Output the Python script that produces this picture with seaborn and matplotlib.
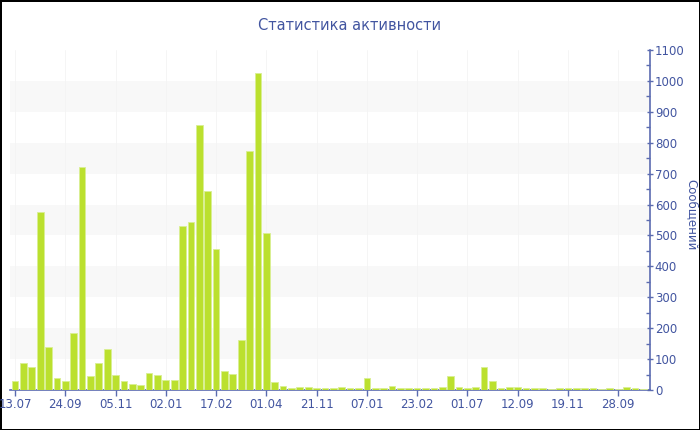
import matplotlib
matplotlib.use("Agg")
import matplotlib.pyplot as plt
import seaborn as sns
import numpy as np
import pandas as pd

# ---- data ----
tick_labels = ["13.07", "24.09", "05.11", "02.01", "17.02", "01.04", "21.11",
               "07.01", "23.02", "01.07", "12.09", "19.11", "28.09"]
messages = [30, 87, 73, 575, 138, 39, 28, 183, 720, 44,
            87, 134, 49, 29, 18, 15, 54, 47, 32, 31,
            530, 543, 858, 644, 455, 61, 51, 161, 773, 1025,
            509, 25, 13, 8, 9, 10, 6, 6, 6, 10,
            5, 7, 38, 6, 6, 12, 6, 6, 6, 6,
            6, 10, 45, 9, 5, 10, 74, 29, 6, 9,
            10, 6, 7, 7, 4, 5, 5, 5, 5, 5,
            4, 6, 4, 9, 5, 4]
title = "Статистика активности"
ylabel = "Сообщений"

text_color = "#4255a0"
axis_color = "#5b6bb0"
bar_color = "#bbe02e"

sns.set_theme(style="white")
plt.rcParams['font.family'] = ['DejaVu Sans']

fig = plt.figure(figsize=(7, 4.3), dpi=100, edgecolor="black", linewidth=2)
ax = fig.add_axes([10/700, 40/430, 640/700, 340/430])

df = pd.DataFrame({"idx": np.arange(len(messages)), "val": messages})
sns.barplot(data=df, x="idx", y="val", color=bar_color, saturation=1,
            width=0.8, edgecolor="#d9ef93", linewidth=0.6, ax=ax, zorder=3)

ax.set_xlim(-0.6, len(messages) - 1 + 0.8)
ax.set_ylim(0, 1100)

# alternating bands
for lo in range(100, 1100, 200):
    ax.axhspan(lo, lo + 100, color="#f8f8f8", zorder=0, lw=0)

tick_pos = list(range(0, len(messages), 6))[:len(tick_labels)]
for p in tick_pos:
    ax.axvline(p, color="#f4f4f4", lw=0.6, zorder=1)

ax.set_xticks(tick_pos)
ax.set_xticklabels(tick_labels)
ax.set_xlabel("")
ax.set_ylabel("")

ax.yaxis.tick_right()
ax.set_yticks(range(0, 1101, 100))
ax.set_yticks(range(50, 1100, 100), minor=True)

for s in ["top", "left"]:
    ax.spines[s].set_visible(False)
for s in ["bottom", "right"]:
    ax.spines[s].set_color(axis_color)
    ax.spines[s].set_linewidth(1.2)

ax.tick_params(axis="x", colors=axis_color, labelcolor=text_color, labelsize=8.5,
               length=4, width=1, direction="out", bottom=True, pad=2)
ax.tick_params(axis="y", which="major", colors=axis_color, labelcolor=text_color,
               labelsize=8.5, length=5, width=1, direction="inout", right=True, pad=1)
ax.tick_params(axis="y", which="minor", colors=axis_color, length=3, width=1,
               direction="in", right=True)

fig.text(0.5, 1 - 25/430, title, ha="center", va="center", color=text_color,
         fontsize=10.5)
fig.text(0.988, 0.5, ylabel, rotation=270, ha="center", va="center",
         color=text_color, fontsize=8.5)

fig.savefig("out.png", dpi=100, edgecolor=fig.get_edgecolor())
